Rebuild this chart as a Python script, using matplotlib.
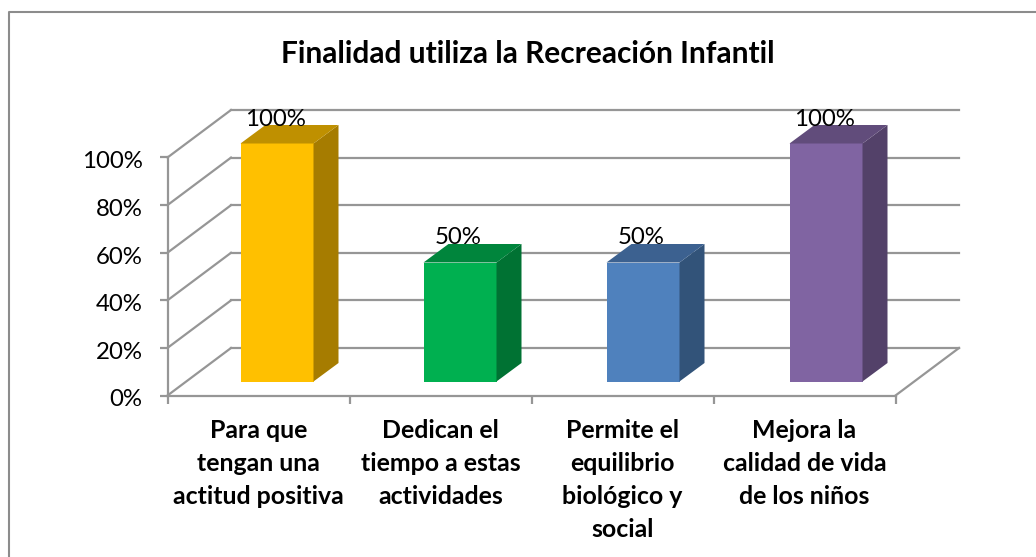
import matplotlib
matplotlib.use('Agg')
import matplotlib.pyplot as plt
from matplotlib.lines import Line2D
from matplotlib.transforms import ScaledTranslation

# Data
categories = ['Para que\ntengan una\nactitud positiva',
              'Dedican el\ntiempo a estas\nactividades',
              'Permite el\nequilibrio\nbiológico y\nsocial',
              'Mejora la\ncalidad de vida\nde los niños']
values = [100, 50, 50, 100]
y_ticks = [0, 20, 40, 60, 80, 100]
title = 'Finalidad utiliza la Recreación Infantil'

front_colors = ['#FFC000', '#00B050', '#4F81BD', '#8064A2']
top_colors = ['#BF9000', '#00853C', '#3C6190', '#614C7B']
side_colors = ['#A67C00', '#007233', '#325379', '#534169']

W, H = 1036, 557
GRID = '#969696'
plt.rcParams['font.family'] = ['Lato', 'DejaVu Sans']

fig = plt.figure(figsize=(W / 100, H / 100), dpi=100)
# plot box in pixels: x 167..895, y 157..395
ax = fig.add_axes([167.5 / W, 1 - 395.5 / H, 728 / W, 238 / H])
ax.set_xlim(0, 4)
ax.set_ylim(0, 100)
ax.patch.set_visible(False)

# size of one pixel in data units, the fake 3D depth is given in pixels
px = 4 / 728
py = 100 / 238
wall_dx, wall_dy = 63.5 * px, 47.5 * py
bar_dx, bar_dy = 25 * px, 18.5 * py
bar_w = 73 * px
base_dy = 14 * py

# back wall and floor
for v in y_ticks:
    ax.plot([0, wall_dx], [v, v + wall_dy], color=GRID, lw=1.6, clip_on=False, zorder=1)
    ax.plot([wall_dx, 4 + wall_dx], [v + wall_dy, v + wall_dy], color=GRID, lw=1.6, clip_on=False, zorder=1)
ax.plot([4, 4 + wall_dx], [0, wall_dy], color=GRID, lw=1.6, clip_on=False, zorder=1)

# bars
centers = [0.5 + i * 183 / 182 + 18.5 * px for i in range(4)]
for i, v in enumerate(values):
    left = centers[i] - bar_w / 2
    right = centers[i] + bar_w / 2
    ax.bar(centers[i], v, width=bar_w, bottom=base_dy, color=front_colors[i], zorder=3, clip_on=False)
    ax.fill([right, right + bar_dx, right + bar_dx, right],
            [base_dy, base_dy + bar_dy, base_dy + v + bar_dy, base_dy + v],
            color=side_colors[i], lw=0, zorder=3, clip_on=False)
    ax.fill([left, left + bar_dx, right + bar_dx, right],
            [base_dy + v, base_dy + v + bar_dy, base_dy + v + bar_dy, base_dy + v],
            color=top_colors[i], lw=0, zorder=3, clip_on=False)
    ax.text(centers[i] - 2 * px, base_dy + v + 14 * py, f'{v}%', ha='center', va='bottom',
            fontsize=17.3, color='black', zorder=4)

# axes
for s in ['top', 'right']:
    ax.spines[s].set_visible(False)
for s in ['left', 'bottom']:
    ax.spines[s].set_color(GRID)
    ax.spines[s].set_linewidth(1.6)
ax.set_yticks(y_ticks)
ax.set_yticklabels([f'{v}%' for v in y_ticks], fontsize=17.3)
ax.set_xticks([0, 1, 2, 3, 4])
ax.set_xticklabels([])
ax.tick_params(axis='both', color=GRID, width=1.6, length=5.5)
ax.tick_params(axis='y', pad=12.5)
# y labels sit a little below their ticks in the original
for lab in ax.get_yticklabels():
    lab.set_transform(lab.get_transform() + ScaledTranslation(0, -2.5 / 100, fig.dpi_scale_trans))

# category labels sit between the ticks
ax.set_xticks([0.5, 1.5, 2.5, 3.5], labels=categories, minor=True)
ax.tick_params(axis='x', which='minor', length=0, pad=17, labelsize=17.9)
for lab in ax.get_xticklabels(minor=True):
    lab.set_fontweight('bold')
    lab.set_linespacing(1.53)

fig.text(528 / W, 1 - 54 / H, title, ha='center', va='center', fontsize=21.5, fontweight='bold')

# chart frame, runs off the bottom and the right of the picture
frame_x = [9 / W, 9 / W, 1]
frame_y = [0, 1 - 12 / H, 1 - 12 / H]
fig.add_artist(Line2D(frame_x, frame_y, color='#8c8c8c', lw=1.5))

fig.savefig('out.png', dpi=100)
